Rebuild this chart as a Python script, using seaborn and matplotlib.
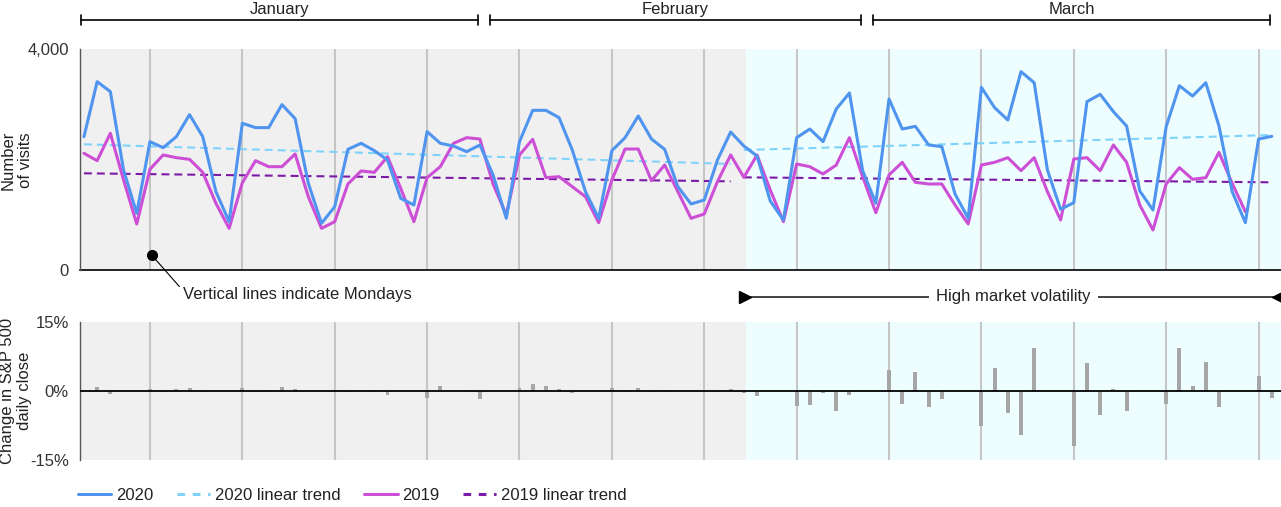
import numpy as np
import pandas as pd
import matplotlib
matplotlib.use("Agg")
import matplotlib.pyplot as plt
import matplotlib.transforms as mtransforms
from matplotlib.lines import Line2D
import seaborn as sns

sns.set_style("white")
plt.rcParams["font.family"] = ["Liberation Sans", "DejaVu Sans"]

# daily visits, Jan 1 - Mar 31 (2020 has 91 days, 2019 series aligned by weekday)
visits_2020 = [2413, 3409, 3228, 1810, 1026, 2323, 2214, 2413, 2812, 2413,
               1418, 875, 2655, 2577, 2577, 2993, 2740, 1569, 845, 1146,
               2184, 2293, 2160, 1991, 1297, 1176, 2504, 2293, 2244, 2142,
               2263, 1720, 936, 2323, 2890, 2890, 2757, 2172, 1418, 936,
               2160, 2395, 2787, 2371, 2184, 1508, 1195, 1267, 1991, 2498,
               2244, 2063, 1249, 905, 2395, 2552, 2323, 2914, 3204, 1800,
               1207, 3095, 2552, 2600, 2263, 2232, 1376, 936, 3306, 2938,
               2715, 3590, 3390, 1810, 1098, 1219, 3047, 3180, 2866, 2606,
               1430, 1086, 2594, 3336, 3149, 3390, 2606, 1418, 857, 2371,
               2419]
visits_2019 = [2112, 1979, 2474, 1629, 833, 1823, 2082, 2033, 2003, 1768,
               1207, 754, 1580, 1979, 1870, 1870, 2100, 1327, 754, 875,
               1557, 1792, 1768, 2051, 1478, 875, 1671, 1870, 2293, 2395,
               2371, 1555, 996, 2082, 2365, 1671, 1689, 1508, 1327, 857,
               1629, 2190, 2190, 1617, 1900, 1418, 936, 1014, 1599, 2082,
               1677, 2082, 1448, 875, 1919, 1870, 1738, 1900, 2395, 1689,
               1037, 1720, 1949, 1587, 1557, 1557, 1177, 833, 1900, 1949,
               2033, 1798, 2033, 1418, 905, 2009, 2033, 1798, 2263, 1949,
               1177, 724, 1557, 1852, 1641, 1671, 2130, 1569, 1055]

# linear trends, fitted separately before / during the volatile period
trend_days = [(0, 49), (50, 90)]
trend_2020 = [(2275, 1920), (2172, 2443)]
trend_2019 = [(1750, 1605), (1677, 1587)]

# S&P 500 daily close change (%)
sp_dates = ["2020-01-02", "2020-01-03", "2020-01-06", "2020-01-07", "2020-01-08",
            "2020-01-09", "2020-01-10", "2020-01-13", "2020-01-14", "2020-01-15",
            "2020-01-16", "2020-01-17", "2020-01-21", "2020-01-22", "2020-01-23",
            "2020-01-24", "2020-01-27", "2020-01-28", "2020-01-29", "2020-01-30",
            "2020-01-31", "2020-02-03", "2020-02-04", "2020-02-05", "2020-02-06",
            "2020-02-07", "2020-02-10", "2020-02-11", "2020-02-12", "2020-02-13",
            "2020-02-14", "2020-02-18", "2020-02-19", "2020-02-20", "2020-02-21",
            "2020-02-24", "2020-02-25", "2020-02-26", "2020-02-27", "2020-02-28",
            "2020-03-02", "2020-03-03", "2020-03-04", "2020-03-05", "2020-03-06",
            "2020-03-09", "2020-03-10", "2020-03-11", "2020-03-12", "2020-03-13",
            "2020-03-16", "2020-03-17", "2020-03-18", "2020-03-19", "2020-03-20",
            "2020-03-23", "2020-03-24", "2020-03-25", "2020-03-26", "2020-03-27",
            "2020-03-30", "2020-03-31"]
sp_change = [0.84, -0.71, 0.35, -0.28, 0.49, 0.67, -0.29, 0.70, -0.15, 0.19,
             0.84, 0.39, -0.27, 0.03, 0.11, -0.90, -1.57, 1.01, -0.09, 0.31,
             -1.77, 0.73, 1.50, 1.13, 0.33, -0.54, 0.73, 0.17, 0.65, -0.16,
             0.18, -0.29, 0.47, -0.38, -1.05, -3.35, -3.03, -0.38, -4.42, -0.82,
             4.60, -2.81, 4.22, -3.39, -1.71, -7.60, 4.94, -4.89, -9.51, 9.29,
             -11.98, 6.00, -5.18, 0.47, -4.34, -2.93, 9.38, 1.15, 6.24, -3.37,
             3.35, -1.60]

months = ["January", "February", "March"]

start = pd.Timestamp("2020-01-01")
dates = pd.date_range(start, periods=len(visits_2020))
days = np.arange(len(visits_2020))
days_2019 = np.arange(len(visits_2019))
mondays = days[dates.weekday == 0]
sp_days = (pd.to_datetime(sp_dates) - start).days.values
month_first = [days[dates.month == m + 1].min() for m in range(3)]
month_last = [days[dates.month == m + 1].max() for m in range(3)]

c2020 = "#4f94ef"
c2020t = "#7fd3fb"
c2019 = "#cc4fd6"
c2019t = "#7b1aa6"
grey_bg = "#f0f0f0"
cyan_bg = "#eefefe"
vol_start = 50.2
xmin, xmax = -0.3, 90.7

W, H = 1281, 507
fig = plt.figure(figsize=(W / 100, H / 100), dpi=100)
ax1 = fig.add_axes([80 / W, 1 - 270 / H, 1201 / W, 221 / H])
ax2 = fig.add_axes([80 / W, 1 - 460 / H, 1201 / W, 138 / H])

for ax in (ax1, ax2):
    ax.axvspan(xmin, vol_start, color=grey_bg, zorder=0, lw=0)
    ax.axvspan(vol_start, xmax, color=cyan_bg, zorder=0, lw=0)
    for m in mondays:
        ax.axvline(m, color="#c6c6c6", lw=1.5, zorder=1)

# top panel
dash = (0, (3.8, 2.4))
for (d0, d1), (a, b) in zip(trend_days, trend_2020):
    ax1.plot([d0, d1], [a, b], color=c2020t, lw=1.5, ls=dash, zorder=2)
for (d0, d1), (a, b) in zip(trend_days, trend_2019):
    ax1.plot([d0, d1], [a, b], color=c2019t, lw=1.5, ls=dash, zorder=2)
sns.lineplot(x=days_2019, y=visits_2019, ax=ax1, color=c2019, lw=2.2, zorder=3)
sns.lineplot(x=days, y=visits_2020, ax=ax1, color=c2020, lw=2.2, zorder=4)

ax1.set_xlim(xmin, xmax)
ax1.set_ylim(0, 4000)
ax1.set_yticks([0, 4000])
ax1.set_yticklabels(["0", "4,000"])
ax1.set_xticks([])
ax1.set_xlabel("")
ax1.set_ylabel("")
ax1.tick_params(axis="y", length=0, pad=8, labelsize=12, labelcolor="#333333")
for s in ("top", "right"):
    ax1.spines[s].set_visible(False)
ax1.spines["left"].set_color("#555555")
ax1.spines["left"].set_linewidth(1.0)
ax1.spines["bottom"].set_color("black")
ax1.spines["bottom"].set_linewidth(1.2)
ax1.spines["left"].set_zorder(5)

# month brackets
tb = mtransforms.blended_transform_factory(ax1.transData, ax1.transAxes)
for name, f, l in zip(months, month_first, month_last):
    x0, x1 = max(f - 0.2, xmin), min(l - 0.15, xmax - 0.05)
    ax1.plot([x0, x1], [1.131, 1.131], color="black", lw=1.2, transform=tb, clip_on=False)
    for xe in (x0, x1):
        ax1.plot([xe, xe], [1.108, 1.154], color="black", lw=1.2, transform=tb, clip_on=False)
    ax1.text((x0 + x1) / 2, 1.178, name, transform=tb, ha="center", va="center",
             fontsize=12, color="#222222")

# annotation for Monday lines
ax1.plot([5.13], [271], "o", color="black", ms=7, clip_on=False, zorder=6)
ax1.annotate("Vertical lines indicate Mondays", xy=(5.13, 271),
             xytext=(31, -39), textcoords="offset pixels", ha="left", va="center",
             fontsize=12, color="#222222", annotation_clip=False,
             arrowprops=dict(arrowstyle="-", color="black", lw=0.8,
                             relpos=(0, 0.75), shrinkA=0, shrinkB=0))

# high volatility arrow
ax1.plot([vol_start, xmax - 0.1], [-0.122, -0.122], color="#222222", lw=1.2,
         transform=tb, clip_on=False)
ax1.plot([vol_start - 0.1], [-0.122], marker=">", color="black", ms=9,
         transform=tb, clip_on=False)
ax1.plot([xmax - 0.25], [-0.122], marker="<", color="black", ms=9,
         transform=tb, clip_on=False)
ax1.text((vol_start + xmax) / 2, -0.122, "High market volatility", transform=tb,
         ha="center", va="center", fontsize=12, color="#222222",
         bbox=dict(facecolor="white", edgecolor="none", pad=5))

# bottom panel
ax2.bar(sp_days, sp_change, width=0.3, color="#a6a6a6", lw=0, zorder=2)
ax2.axhline(0, color="black", lw=1.3, zorder=3)
ax2.set_xlim(xmin, xmax)
ax2.set_ylim(-15, 15)
ax2.set_yticks([-15, 0, 15])
ax2.set_yticklabels(["-15%", "0%", "15%"])
ax2.set_xticks([])
ax2.tick_params(axis="y", length=0, pad=8, labelsize=12, labelcolor="#333333")
for s in ("top", "right", "bottom"):
    ax2.spines[s].set_visible(False)
ax2.spines["left"].set_color("#555555")
ax2.spines["left"].set_linewidth(1.0)

fig.text(17 / W, 1 - 160 / H, "Number\nof visits", rotation=90, ha="center",
         va="center", fontsize=12, color="#222222", multialignment="center")
fig.text(16 / W, 1 - 391 / H, "Change in S&P 500\ndaily close", rotation=90,
         ha="center", va="center", fontsize=12, color="#222222",
         multialignment="center")

handles = [Line2D([], [], color=c2020, lw=2.2),
           Line2D([], [], color=c2020t, lw=2.2, ls=(0, (2.5, 2.5))),
           Line2D([], [], color=c2019, lw=2.2),
           Line2D([], [], color=c2019t, lw=2.2, ls=(0, (2.5, 2.5)))]
labels = ["2020", "2020 linear trend", "2019", "2019 linear trend"]
fig.legend(handles, labels, loc="center left", bbox_to_anchor=(78 / W, 1 - 495 / H),
           ncol=4, frameon=False, fontsize=12, handlelength=2.0,
           handletextpad=0.3, columnspacing=1.4, borderpad=0, borderaxespad=0,
           labelcolor="#222222")

fig.savefig("out.png", dpi=100)
